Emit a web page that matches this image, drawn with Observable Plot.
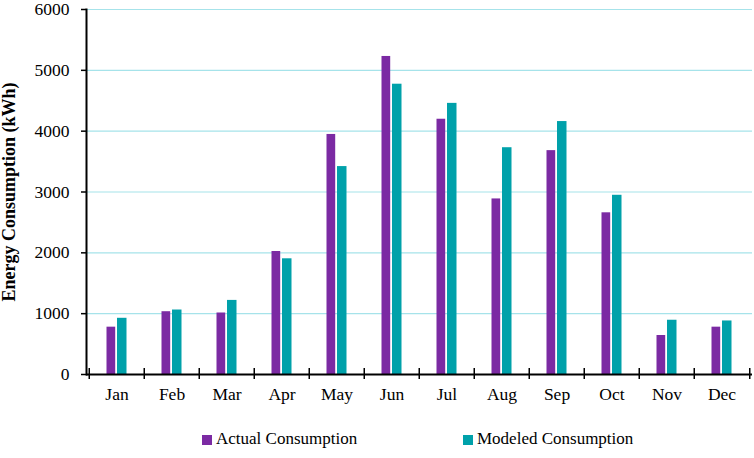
<!DOCTYPE html>
<html>
<head>
<meta charset="utf-8">
<script src="https://cdn.jsdelivr.net/npm/d3@7"></script>
<script src="https://cdn.jsdelivr.net/npm/@observablehq/plot@0.6"></script>
<style>
  body { margin: 0; background: #fff; font-family: "Liberation Serif", "DejaVu Serif", serif; }
  #wrap { position: relative; width: 754px; height: 458px; }
  #legend { position: relative; width: 754px; height: 48px; font-size: 17px; color: #000; }
  .sw { position: absolute; width: 10px; height: 10px; top: 25px; }
  .lt { position: absolute; top: 19px; line-height: 20px; white-space: nowrap; }
</style>
</head>
<body>
<div id="wrap"></div>
<script>
const months = ["Jan","Feb","Mar","Apr","May","Jun","Jul","Aug","Sep","Oct","Nov","Dec"];
const actual = [778, 1032, 1011, 2022, 3946, 5228, 4196, 2886, 3680, 2658, 641, 778];
const modeled = [924, 1060, 1218, 1902, 3418, 4772, 4457, 3728, 4158, 2946, 892, 880];
const yTicks = [0, 1000, 2000, 3000, 4000, 5000, 6000];
const seriesNames = ["Actual Consumption", "Modeled Consumption"];
const colors = ["#7b2aa3", "#00a1aa"];

const actualData = months.map((m, i) => ({month: m, value: actual[i]}));
const modeledData = months.map((m, i) => ({month: m, value: modeled[i]}));

const W = 754, mL = 86, mR = 2;
const bw = (W - mL - mR) / months.length;
const font = "Liberation Serif, DejaVu Serif, serif";

const chart = Plot.plot({
  width: W,
  height: 410,
  marginLeft: mL,
  marginRight: mR,
  marginTop: 9,
  marginBottom: 36,
  style: {fontFamily: font, background: "#fff", color: "#000", overflow: "visible"},
  x: {domain: months, padding: 0, label: null},
  y: {domain: [0, 6000], label: null},
  marks: [
    Plot.gridY(yTicks.filter(d => d > 0), {stroke: "#a6e3ea", strokeOpacity: 1, strokeWidth: 1.2}),
    Plot.barY(actualData, {x: "month", y: "value", fill: colors[0], insetLeft: 17.5, insetRight: 28.8}),
    Plot.barY(modeledData, {x: "month", y: "value", fill: colors[1], insetLeft: 28, insetRight: 17.5}),
    Plot.axisY({ticks: yTicks, tickSize: 5, tickPadding: 12, fontSize: 17.5, stroke: "#000", strokeWidth: 1.5, label: null, tickFormat: d => String(d)}),
    Plot.axisX({tickSize: 0, tickPadding: 13, fontSize: 17.5, label: null}),
    Plot.frame({anchor: "left", stroke: "#000", strokeWidth: 2}),
    Plot.ruleY([0], {stroke: "#000", strokeWidth: 2}),
    Plot.ruleX(months, {x: d => d, y1: 0, y2: 0, insetTop: -6, insetBottom: -5, dx: -bw / 2, stroke: "#000", strokeWidth: 1.5}),
    Plot.ruleX(months.slice(-1), {x: d => d, y1: 0, y2: 0, insetTop: -6, insetBottom: -5, dx: bw / 2, stroke: "#000", strokeWidth: 1.5}),
    Plot.text(["Energy Consumption (kWh)"], {frameAnchor: "left", textAnchor: "middle", rotate: -90, dx: -77, fontSize: 18, fontWeight: "bold", fill: "#000", text: d => d})
  ]
});

const wrap = document.getElementById("wrap");
wrap.appendChild(chart);

const legend = document.createElement("div");
legend.id = "legend";
const pos = [{sw: 202, tx: 216}, {sw: 463, tx: 477}];
seriesNames.forEach((name, i) => {
  const s = document.createElement("span");
  s.className = "sw";
  s.style.left = pos[i].sw + "px";
  s.style.background = colors[i];
  const t = document.createElement("span");
  t.className = "lt";
  t.style.left = pos[i].tx + "px";
  t.textContent = name;
  legend.appendChild(s);
  legend.appendChild(t);
});
wrap.appendChild(legend);
</script>
</body>
</html>
